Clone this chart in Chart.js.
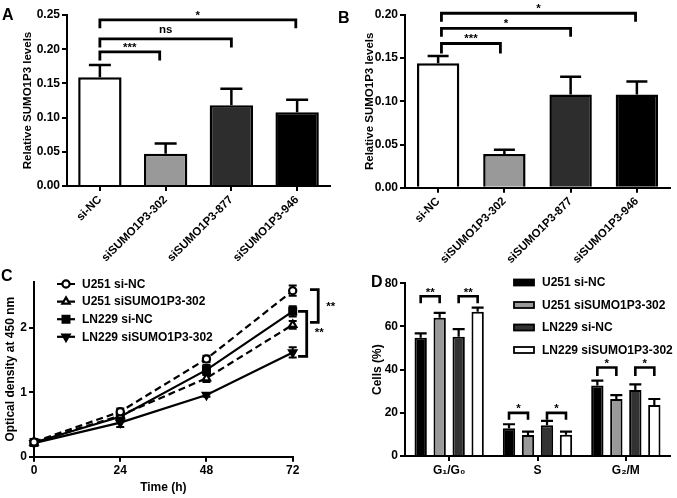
<!DOCTYPE html>
<html><head><meta charset="utf-8">
<script src="https://cdn.jsdelivr.net/npm/chart.js@4.4.0/dist/chart.umd.min.js"></script>
<style>
html,body{margin:0;padding:0;background:#fff;}
#wrap{position:relative;width:677px;height:498px;overflow:hidden;background:#fff;}
.pane{position:absolute;}
.pane canvas{display:block;}
.lbl{position:absolute;font:bold 16px "Liberation Sans",Arial,sans-serif;line-height:16px;color:#000;}
</style></head><body>
<div id="wrap">
  <div class="pane" style="left:0;top:0;width:337px;height:265px"><canvas id="cA" width="337" height="265"></canvas></div>
  <div class="pane" style="left:337px;top:0;width:340px;height:265px"><canvas id="cB" width="340" height="265"></canvas></div>
  <div class="pane" style="left:0;top:265px;width:340px;height:233px"><canvas id="cC" width="340" height="233"></canvas></div>
  <div class="pane" style="left:337px;top:265px;width:340px;height:233px"><canvas id="cD" width="340" height="233"></canvas></div>
  <div class="lbl" style="left:2px;top:7px">A</div>
  <div class="lbl" style="left:338px;top:10px">B</div>
  <div class="lbl" style="left:1px;top:268px">C</div>
  <div class="lbl" style="left:371px;top:274px">D</div>
</div>
<script>
// ---------- data ----------
const categoriesAB = ['si-NC', 'siSUMO1P3-302', 'siSUMO1P3-877', 'siSUMO1P3-946'];
const levelsA = [0.159, 0.047, 0.118, 0.108];
const semA = [0.018, 0.015, 0.024, 0.018];
const levelsB = [0.144, 0.039, 0.108, 0.108];
const semB = [0.0085, 0.005, 0.0205, 0.015];

const hoursC = [0, 24, 48, 72];
const namesC = ['U251 si-NC', 'U251 siSUMO1P3-302', 'LN229 si-NC', 'LN229 siSUMO1P3-302'];
const odU251NC = [0.23, 0.70, 1.52, 2.58];
const odU251KD = [0.22, 0.64, 1.22, 2.05];
const odLN229NC = [0.22, 0.62, 1.35, 2.26];
const odLN229KD = [0.21, 0.53, 0.96, 1.62];
const semU251NC = [0.03, 0.05, 0.05, 0.08];
const semU251KD = [0.03, 0.05, 0.06, 0.06];
const semLN229NC = [0.03, 0.07, 0.08, 0.08];
const semLN229KD = [0.03, 0.07, 0.03, 0.08];

const phasesD = ['G\u2081/G\u2080', 'S', 'G\u2082/M'];
const namesD = ['U251 si-NC', 'U251 siSUMO1P3-302', 'LN229 si-NC', 'LN229 siSUMO1P3-302'];
const cellsU251NC = [54.8, 12.8, 32.6];
const cellsU251KD = [64.0, 9.7, 26.4];
const cellsLN229NC = [55.2, 14.3, 30.6];
const cellsLN229KD = [66.8, 9.9, 23.6];
const semCellsU251NC = [2.0, 1.9, 2.3];
const semCellsU251KD = [2.3, 1.6, 1.8];
const semCellsLN229NC = [3.6, 2.0, 2.6];
const semCellsLN229KD = [1.9, 1.4, 2.8];

// ---------- common ----------
const FONT = '"Liberation Sans", Arial, sans-serif';
Chart.defaults.font.family = FONT;
Chart.defaults.font.weight = 'bold';
Chart.defaults.color = '#000';

const errorBars = {
  id: 'errorBars',
  beforeDatasetsDraw(chart, args, opts) {
    const ctx = chart.ctx, ys = chart.scales.y;
    ctx.save();
    ctx.strokeStyle = '#000';
    ctx.lineWidth = opts.lw || 2.5;
    ctx.lineCap = 'butt';
    chart.data.datasets.forEach((ds, i) => {
      if (!ds.errors) return;
      const meta = chart.getDatasetMeta(i);
      meta.data.forEach((el, j) => {
        const d = ds.data[j];
        const v = (typeof d === 'object') ? d.y : d;
        const e = ds.errors[j];
        const x = el.x;
        const top = ys.getPixelForValue(v + e);
        const bot = opts.both ? ys.getPixelForValue(v - e) : el.y;
        const cap = opts.cap || 6;
        ctx.beginPath();
        ctx.moveTo(x, bot); ctx.lineTo(x, top);
        ctx.moveTo(x - cap, top); ctx.lineTo(x + cap, top);
        if (opts.both) { ctx.moveTo(x - cap, bot); ctx.lineTo(x + cap, bot); }
        ctx.stroke();
      });
    });
    ctx.restore();
  }
};

const brackets = {
  id: 'brackets',
  afterDraw(chart, args, opts) {
    const ctx = chart.ctx, xs = chart.scales.x, ys = chart.scales.y;
    ctx.save();
    ctx.strokeStyle = '#000'; ctx.fillStyle = '#000';
    ctx.lineWidth = opts.lw || 2.5;
    ctx.lineJoin = 'miter'; ctx.lineCap = 'butt';
    ctx.font = 'bold ' + (opts.fontSize || 11.5) + 'px ' + FONT;
    (opts.items || []).forEach(b => {
      if (b.type === 'v') {
        const x = xs.getPixelForValue(b.x), xa = xs.getPixelForValue(b.xArm);
        const y1 = ys.getPixelForValue(b.y1), y2 = ys.getPixelForValue(b.y2);
        ctx.beginPath();
        ctx.moveTo(xa, y1); ctx.lineTo(x, y1); ctx.lineTo(x, y2); ctx.lineTo(xa, y2);
        ctx.stroke();
        ctx.textAlign = 'left'; ctx.textBaseline = 'alphabetic';
        ctx.fillText(b.text, x + b.tx, (y1 + y2) / 2 + b.ty);
      } else {
        const px = p => Array.isArray(p) ? chart.getDatasetMeta(p[0]).data[p[1]].x : xs.getPixelForValue(p);
        const x1 = px(b.a), x2 = px(b.b);
        const y = ys.getPixelForValue(b.y);
        ctx.beginPath();
        ctx.moveTo(x1, y + b.leg); ctx.lineTo(x1, y); ctx.lineTo(x2, y); ctx.lineTo(x2, y + b.leg);
        ctx.stroke();
        ctx.textAlign = 'center'; ctx.textBaseline = 'alphabetic';
        ctx.fillText(b.text, (x1 + x2) / 2, y + b.dy);
      }
    });
    ctx.restore();
  }
};

const customLegend = {
  id: 'customLegend',
  afterDraw(chart, args, o) {
    if (!o || !o.kind) return;
    const ctx = chart.ctx;
    ctx.save();
    chart.data.datasets.forEach((ds, i) => {
      const y = o.y + i * o.dy;
      if (o.kind === 'line') {
        ctx.strokeStyle = '#000';
        ctx.lineWidth = ds.borderWidth;
        ctx.setLineDash(ds.borderDash || []);
        ctx.beginPath(); ctx.moveTo(o.x1, y); ctx.lineTo(o.x2, y); ctx.stroke();
        ctx.setLineDash([]);
        ctx.fillStyle = ds.pointBackgroundColor;
        ctx.strokeStyle = ds.pointBorderColor;
        ctx.lineWidth = ds.pointBorderWidth;
        Chart.helpers.drawPoint(ctx, {
          pointStyle: ds.pointStyle, rotation: ds.pointRotation || 0,
          radius: ds.pointRadius, borderWidth: ds.pointBorderWidth
        }, (o.x1 + o.x2) / 2, y);
      } else {
        ctx.fillStyle = ds.backgroundColor;
        ctx.strokeStyle = '#000';
        ctx.lineWidth = 1.8;
        ctx.fillRect(o.x1, y - o.h / 2, o.x2 - o.x1, o.h);
        ctx.strokeRect(o.x1, y - o.h / 2, o.x2 - o.x1, o.h);
      }
      ctx.fillStyle = '#000';
      ctx.font = 'bold 12px ' + FONT;
      ctx.textAlign = 'left'; ctx.textBaseline = 'middle';
      ctx.fillText(ds.label, o.tx, y + 0.5);
    });
    ctx.restore();
  }
};

function yAxis(min, max, step, title, width, titlePad, fmt, titleSize) {
  return {
    min, max,
    afterFit: s => { s.width = width; },
    border: { display: true, color: '#000', width: 2 },
    grid: { display: true, drawOnChartArea: false, drawTicks: true, tickLength: 5, color: '#000', lineWidth: 2 },
    ticks: { stepSize: step, includeBounds: false, padding: 2, font: { size: 12, weight: 'bold' }, color: '#000', callback: fmt },
    title: { display: true, text: title, color: '#000', font: { size: titleSize || 11.5, weight: 'bold' }, padding: { top: titlePad, bottom: 0 } }
  };
}
function catAxis(height, rot, size) {
  return {
    type: 'category', offset: true,
    afterFit: s => { s.height = height; },
    border: { display: true, color: '#000', width: 2 },
    grid: { display: true, offset: false, drawOnChartArea: false, drawTicks: true, tickLength: 5, color: '#000', lineWidth: 2 },
    ticks: { minRotation: rot, maxRotation: rot, autoSkip: false, padding: 2, font: { size: size, weight: 'bold' }, color: '#000' }
  };
}
const fmt2 = v => Number(v).toFixed(2);
const barFills = ['#ffffff', '#999999', '#2d2d2d', '#000000'];

// ---------- A ----------
new Chart(document.getElementById('cA'), {
  type: 'bar',
  data: { labels: categoriesAB, datasets: [{
    data: levelsA, errors: semA, backgroundColor: barFills, borderColor: '#000', borderWidth: 2.5,
    categoryPercentage: 1, barPercentage: 0.66
  }] },
  options: {
    responsive: false, animation: false, devicePixelRatio: 1,
    layout: { padding: { top: 15, right: 7, left: 0, bottom: 0 } },
    plugins: {
      legend: { display: false }, tooltip: { enabled: false },
      errorBars: { cap: 11, lw: 2.5 },
      brackets: { lw: 2.8, items: [
        { a: 0, b: 0.91, y: 0.196, leg: 8.5, text: '***', dy: -1 },
        { a: 0, b: 2, y: 0.215, leg: 8.5, text: 'ns', dy: -5.5 },
        { a: 0, b: 2.98, y: 0.243, leg: 8.5, text: '*', dy: -1 }
      ] }
    },
    scales: {
      x: catAxis(79, 45, 11.5),
      y: yAxis(0, 0.25, 0.05, 'Relative SUMO1P3 levels', 67, 21, fmt2)
    }
  },
  plugins: [errorBars, brackets]
});

// ---------- B ----------
new Chart(document.getElementById('cB'), {
  type: 'bar',
  data: { labels: categoriesAB, datasets: [{
    data: levelsB, errors: semB, backgroundColor: barFills, borderColor: '#000', borderWidth: 2.5,
    categoryPercentage: 1, barPercentage: 0.64
  }] },
  options: {
    responsive: false, animation: false, devicePixelRatio: 1,
    layout: { padding: { top: 15, right: 7, left: 0, bottom: 0 } },
    plugins: {
      legend: { display: false }, tooltip: { enabled: false },
      errorBars: { cap: 10.5, lw: 2.5 },
      brackets: { lw: 2.8, items: [
        { a: 0.05, b: 0.94, y: 0.167, leg: 10, text: '***', dy: -1 },
        { a: 0.05, b: 2, y: 0.1846, leg: 8.5, text: '*', dy: -1 },
        { a: 0.05, b: 2.98, y: 0.202, leg: 8.5, text: '*', dy: -1 }
      ] }
    },
    scales: {
      x: catAxis(77.3, 45, 11.5),
      y: yAxis(0, 0.20, 0.05, 'Relative SUMO1P3 levels', 68, 25.5, fmt2)
    }
  },
  plugins: [errorBars, brackets]
});

// ---------- C ----------
function pts(ys) { return hoursC.map((h, i) => ({ x: h, y: ys[i] })); }
function lineDs(label, vals, errs, dash, style, rot, fill) {
  return {
    label, data: pts(vals), errors: errs, borderColor: '#000', borderWidth: 2.2, borderDash: dash,
    tension: 0, fill: false, clip: false,
    pointStyle: style, pointRotation: rot,
    pointRadius: style === 'rect' ? 4.8 : (style === 'triangle' ? 4.2 : 3.6),
    pointBackgroundColor: fill, pointBorderColor: '#000', pointBorderWidth: 2.2
  };
}
new Chart(document.getElementById('cC'), {
  type: 'line',
  data: { datasets: [
    lineDs(namesC[0], odU251NC, semU251NC, [7, 4], 'circle', 0, '#fff'),
    lineDs(namesC[1], odU251KD, semU251KD, [7, 4], 'triangle', 0, '#fff'),
    lineDs(namesC[2], odLN229NC, semLN229NC, [], 'rect', 0, '#000'),
    lineDs(namesC[3], odLN229KD, semLN229KD, [], 'triangle', 180, '#000')
  ] },
  options: {
    responsive: false, animation: false, devicePixelRatio: 1,
    layout: { padding: { top: 16.7, right: 47.3, left: 0, bottom: 0 } },
    plugins: {
      legend: { display: false }, tooltip: { enabled: false },
      errorBars: { cap: 4, lw: 2, both: true },
      brackets: { lw: 2.8, items: [
        { type: 'v', x: 79.1, xArm: 76.8, y1: 2.597, y2: 2.087, text: '**', tx: 8, ty: 4 },
        { type: 'v', x: 75.9, xArm: 73.5, y1: 2.259, y2: 1.558, text: '**', tx: 8, ty: 2 }
      ] },
      customLegend: { kind: 'line', x1: 57, x2: 75, tx: 82, y: 19, dy: 17.6 }
    },
    scales: {
      x: {
        type: 'linear', min: 0, max: 72,
        afterFit: s => { s.height = 41.3; },
        border: { display: true, color: '#000', width: 2 },
        grid: { display: true, drawOnChartArea: false, drawTicks: true, tickLength: 5, color: '#000', lineWidth: 2 },
        ticks: { stepSize: 24, padding: 2, font: { size: 12, weight: 'bold' }, color: '#000' },
        title: { display: true, text: 'Time (h)', color: '#000', font: { size: 12, weight: 'bold' }, padding: { top: 0, bottom: 3 } }
      },
      y: yAxis(0, 2.72, 1, 'Optical density at 450 nm', 34, 3, v => v, 12)
    }
  },
  plugins: [errorBars, brackets, customLegend]
});

// ---------- D ----------
function barDs(label, vals, errs, fill) {
  return { label, data: vals, errors: errs, backgroundColor: fill, borderColor: '#000', borderWidth: 2,
    categoryPercentage: 0.86, barPercentage: 0.65 };
}
new Chart(document.getElementById('cD'), {
  type: 'bar',
  data: { labels: phasesD, datasets: [
    barDs(namesD[0], cellsU251NC, semCellsU251NC, '#000000'),
    barDs(namesD[1], cellsU251KD, semCellsU251KD, '#999999'),
    barDs(namesD[2], cellsLN229NC, semCellsLN229NC, '#333333'),
    barDs(namesD[3], cellsLN229KD, semCellsLN229KD, '#ffffff')
  ] },
  options: {
    responsive: false, animation: false, devicePixelRatio: 1,
    layout: { padding: { top: 18.3, right: 7, left: 0, bottom: 0 } },
    plugins: {
      legend: { display: false }, tooltip: { enabled: false },
      errorBars: { cap: 6, lw: 2.2 },
      brackets: { lw: 2.6, items: [
        { a: [0, 0], b: [1, 0], y: 74, leg: 7, text: '**', dy: -0.5 },
        { a: [2, 0], b: [3, 0], y: 74, leg: 7, text: '**', dy: -0.5 },
        { a: [0, 1], b: [1, 1], y: 20, leg: 7, text: '*', dy: -0.5 },
        { a: [2, 1], b: [3, 1], y: 20, leg: 7, text: '*', dy: -0.5 },
        { a: [0, 2], b: [1, 2], y: 41, leg: 8.5, text: '*', dy: -0.5 },
        { a: [2, 2], b: [3, 2], y: 41, leg: 8.5, text: '*', dy: -0.5 }
      ] },
      customLegend: { kind: 'box', x1: 177, x2: 197, h: 6, tx: 205, y: 17.5, dy: 22.5 }
    },
    scales: {
      x: catAxis(42, 0, 12),
      y: yAxis(0, 80, 20, 'Cells (%)', 68, 33.5, v => v, 12)
    }
  },
  plugins: [errorBars, brackets, customLegend]
});
</script>
</body></html>
